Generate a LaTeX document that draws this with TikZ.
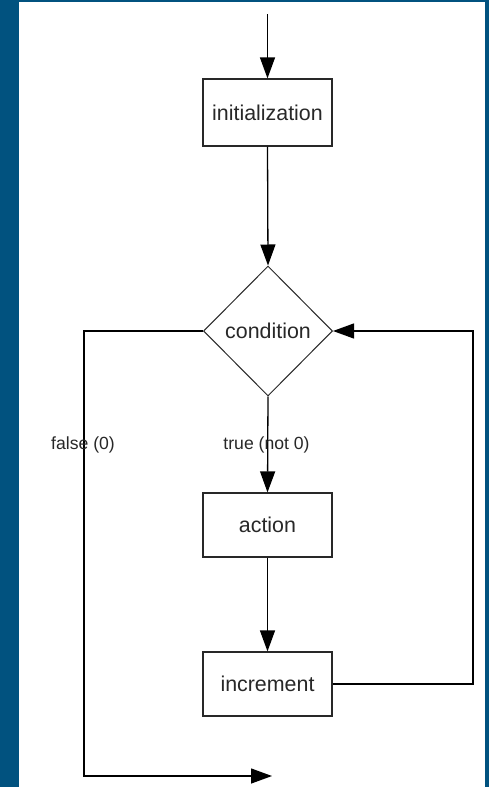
\documentclass[tikz,border=0pt]{standalone}
\usepackage{fontspec}
\setmainfont{Liberation Sans}
\usetikzlibrary{shapes.geometric,arrows.meta}
\definecolor{frameblue}{RGB}{1,82,127}
\definecolor{ink}{RGB}{40,40,40}
\tikzset{
  boxnode/.style={draw=ink, line width=1.2pt, rectangle, minimum width=129pt, inner sep=0pt, font=\fontsize{21.4}{24}\selectfont, text=ink},
  decision/.style={draw=ink, line width=1pt, diamond, minimum width=129pt, minimum height=130pt, inner sep=0pt, font=\fontsize{21.4}{24}\selectfont, text=ink},
  arr/.style={draw=black, line width=1.3pt, -{Triangle[length=21pt,width=15pt]}},
  conn/.style={draw=ink, line width=1.2pt},
  lbl/.style={font=\fontsize{17.6}{20}\selectfont, text=ink, inner sep=0pt}
}
\begin{document}
\begin{tikzpicture}[x=1pt,y=-1pt]
\useasboundingbox (0,0) rectangle (489,787);
\fill[frameblue] (0,0) rectangle (489,787);
\fill[white] (19,2) rectangle (485,787);

\coordinate (start) at (267.5,14);
\node[boxnode, minimum height=67pt] (init) at (267.5,112.5) {initialization};
\node[decision] (cond) at (268,331) {condition};
\node[boxnode, minimum height=64pt] (action) at (267.5,525) {action};
\node[boxnode, minimum height=64pt] (incr) at (267.5,684) {increment};
\coordinate (r1) at (473,684);
\coordinate (l1) at (84,331);
\coordinate (l2) at (84,776);
\coordinate (endpt) at (272,776);

\draw[arr] (start) -- (init.north);
\draw[arr] (init.south) -- (cond.north);
\draw[arr] (cond.south) -- (action.north);
\draw[arr] (action.south) -- (incr.north);
\draw[arr] (incr.east) -- (r1) |- (cond.east);
\draw[arr] (cond.west) -- (l1) -- (l2) -- (endpt);

\node[lbl] (flabel) at (83,445) {false (0)};
\node[lbl] (tlabel) at (266.5,445) {true (not 0)};
\end{tikzpicture}
\end{document}
